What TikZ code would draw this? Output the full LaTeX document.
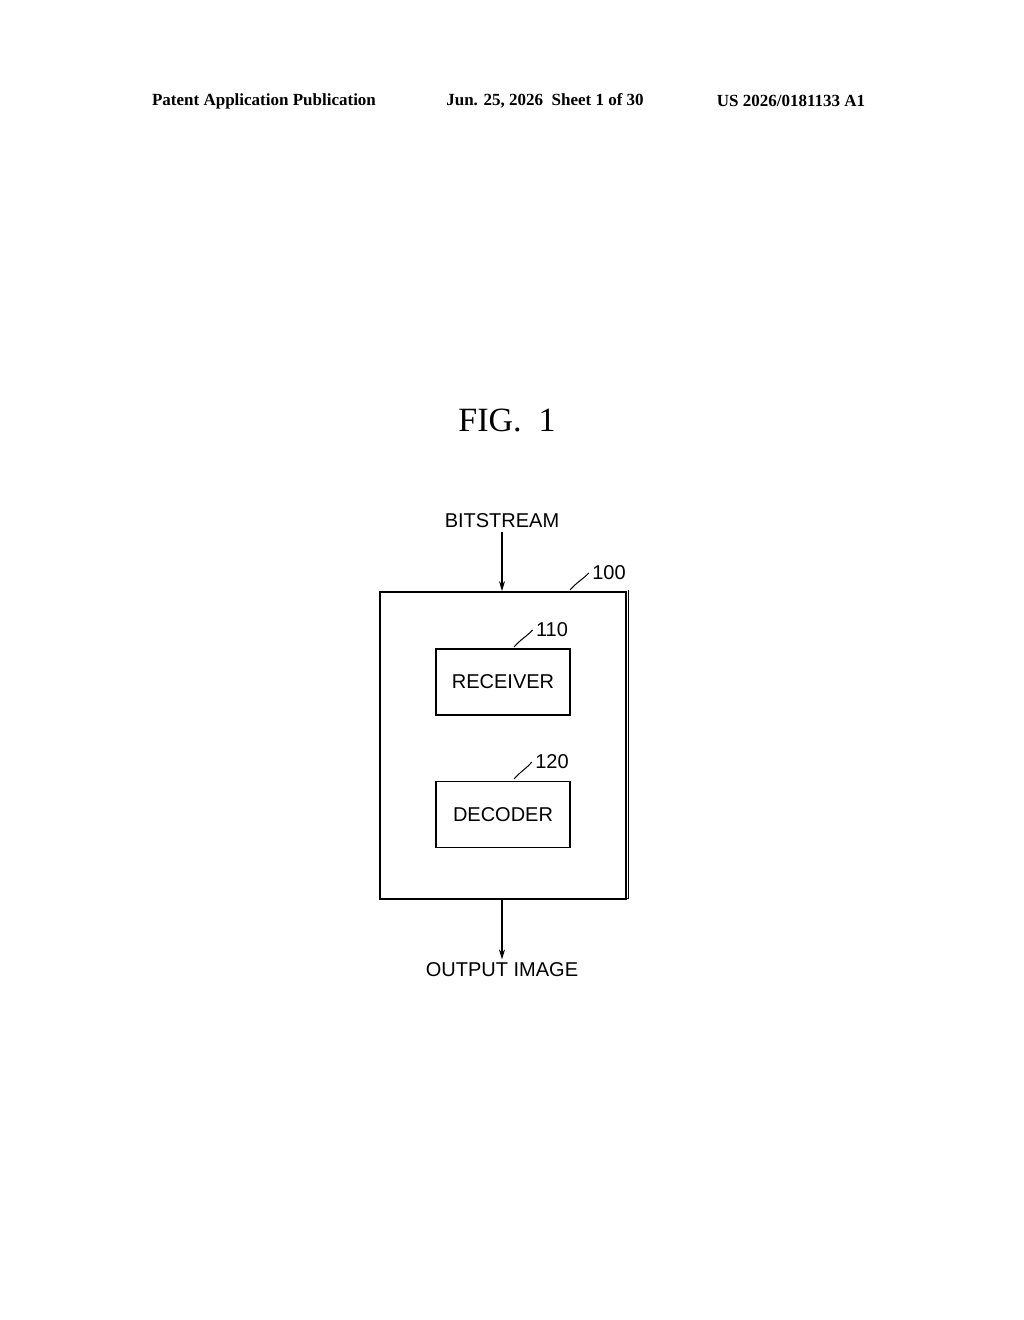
\documentclass[tikz,border=0pt]{standalone}
\usepackage{fontspec}
\setmainfont{Liberation Serif}
\setsansfont{Liberation Sans}
\usetikzlibrary{arrows.meta}
\begin{document}
\begin{tikzpicture}[x=1pt,y=-1pt,
  hdr/.style={font=\bfseries\fontsize{17}{20}\selectfont},
  lbl/.style={font=\sffamily\fontsize{20}{24}\selectfont},
  blk/.style={draw,line width=1.6pt,minimum width=134pt,minimum height=66pt,font=\sffamily\fontsize{20}{24}\selectfont},
  lead/.style={line width=1pt},
  arr/.style={line width=1.2pt,-{Stealth[length=10pt,width=6pt]}}]
\useasboundingbox (0,0) rectangle (1024,1320);
\node[hdr] (h1) at (264,101) {Patent Application Publication};
\node[hdr] (h2) at (545,101) {Jun. 25, 2026\ \ Sheet 1 of 30};
\node[hdr] (h3) at (791,101) {US 2026/0181133 A1};
\node[font=\fontsize{34}{40}\selectfont] (fig) at (507,420) {FIG.\ \ 1};
\node[lbl] (bs) at (502,521) {BITSTREAM};
\node[draw,line width=1.8pt,minimum width=246pt,minimum height=307pt] (outer) at (503,745.5) {};
\draw[line width=1.2pt] ([xshift=1.5pt,yshift=1.5pt]outer.north east) -- ([xshift=1.5pt,yshift=1.5pt]outer.south east) -- ([xshift=1.5pt,yshift=1.5pt]outer.south west);
\node[blk] (rx) at (503,682) {RECEIVER};
\node[blk] (dec) at (503,814.5) {DECODER};
\node[lbl] (n100) at (609,573) {100};
\node[lbl] (n110) at (552,630) {110};
\node[lbl] (n120) at (552,762) {120};
\coordinate (c100) at (570,590);
\coordinate (c110) at (514,647);
\coordinate (c120) at (514,779);
\draw[lead] (c100) .. controls (577,582) and (582,580) .. (n100.west);
\draw[lead] (c110) .. controls (521,639) and (526,637) .. (n110.west);
\draw[lead] (c120) .. controls (521,771) and (526,769) .. (n120.west);
\node[lbl] (out) at (502,970) {OUTPUT IMAGE};
\draw[arr] (bs.south) -- (outer.north -| bs.south);
\draw[arr] (outer.south -| out.north) -- (out.north);
\end{tikzpicture}
\end{document}
